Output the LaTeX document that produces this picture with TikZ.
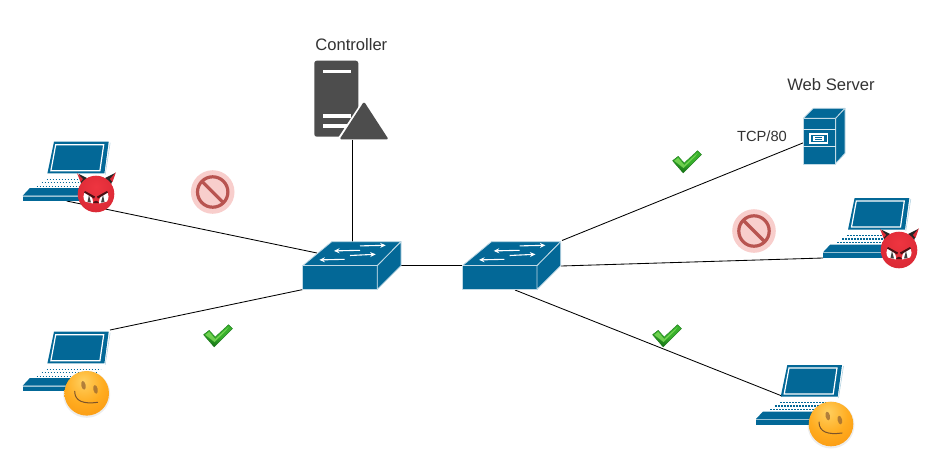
\documentclass[tikz,border=0pt]{standalone}
\usepackage{fontspec}
\setmainfont{Liberation Sans}
\definecolor{netblue}{HTML}{036897}
\definecolor{ctlgray}{HTML}{4D4D4D}
\definecolor{txt}{HTML}{333333}
\definecolor{ringred}{HTML}{B85450}
\definecolor{palered}{HTML}{F8CECC}
\definecolor{devA}{HTML}{EE3540}
\definecolor{devB}{HTML}{DC2A36}
\definecolor{devC}{HTML}{A82028}
\definecolor{devD}{HTML}{4A1014}
\definecolor{smA}{HTML}{FFD060}
\definecolor{smB}{HTML}{FFAC20}
\definecolor{smC}{HTML}{F8920C}
\definecolor{smD}{HTML}{E87804}
\definecolor{chkA}{HTML}{7FDC5A}
\definecolor{chkB}{HTML}{38B02C}
\definecolor{chkC}{HTML}{147014}
\pgfdeclareradialshading{smileshade}{\pgfpoint{-4bp}{14bp}}{color(0bp)=(smA); color(22bp)=(smB); color(45bp)=(smC); color(62bp)=(smD); color(100bp)=(smD)}
\pgfdeclareradialshading{devilshade}{\pgfpoint{0bp}{10bp}}{color(0bp)=(devA); color(30bp)=(devB); color(46bp)=(devC); color(60bp)=(devD); color(100bp)=(devD)}
\usetikzlibrary{arrows.meta}
\tikzset{
  x=1pt,y=-1pt,
  port/.style={inner sep=0pt,minimum size=0pt,outer sep=0pt},
  link/.style={draw=black,line width=0.85pt},
  lbl/.style={inner sep=0pt,text=txt,font=\fontsize{16.6}{18}\selectfont},
  smalllbl/.style={inner sep=0pt,text=txt,font=\fontsize{14.7}{16}\selectfont},
  face/.style={fill=netblue,draw=white!75!netblue,line width=0.8pt,line join=round},
  flowarrow/.style={white,line width=1.1pt,-{Stealth[length=5.5pt,width=5pt]}},
  laptop/.pic={
    \fill[netblue] (31.3,0)--(86,0)--(81.7,31.7)--(24.7,31.7)--cycle;
    \draw[white,line width=1.2pt] (33,3)--(81,3)--(77.2,29)--(28.2,29)--cycle;
    \draw[white!70!netblue,line width=0.6pt] (87.5,1)--(82.5,33);
    \foreach \yy/\xa/\xb in {37.5/24/78,41/19/75,44.5/14/72}
      \draw[netblue,line width=1.3pt,dash pattern=on 1.6pt off 1.4pt] (\xa,\yy)--(\xb,\yy);
    \fill[netblue] (0,54)--(7,46.5)--(70,46.5)--(66,54)--cycle;
    \fill[netblue] (0,55)--(72,55)--(72,59.5)--(0,59.5)--cycle;
    \draw[white!60!netblue,line width=0.5pt] (0,54.6)--(72,54.6);
  },
  switchicon/.pic={
    \path[face] (0,24)--(29,0)--(98.3,0)--(74.6,24)--cycle;
    \path[face] (0,24)--(74.6,24)--(74.6,47.6)--(0,47.6)--cycle;
    \path[face] (74.6,24)--(98.3,0)--(98.3,24)--(74.6,47.6)--cycle;
    \draw[flowarrow] (57.3,4.2)--(83,3.6);
    \draw[flowarrow] (57.3,8.6)--(31.3,9.2);
    \draw[flowarrow] (47.3,13.8)--(73,12.6);
    \draw[flowarrow] (42,17.6)--(16.7,18.2);
  },
  devil/.pic={
    \fill[black!85] (-17,-20)--(-9,-16)--(-14.5,-8)--cycle;
    \fill[black!85] (19,-21)--(9,-16)--(14.5,-8)--cycle;
    \fill[devB] (-19,-21)--(-13,-15)--(-15.5,-12)--cycle;
    \fill[devB] (20,-22)--(14,-15)--(16.5,-12)--cycle;
    \shade[shading=devilshade] (0,0) circle[radius=18.3];
    \fill[white] (-11.5,-1.5) .. controls (-6,-1.5) and (-2.5,4) .. (-3,9.5) -- (-11,7.5) .. controls (-13,4) and (-13,1) .. (-11.5,-1.5);
    \fill[white] (11.5,-1.5) .. controls (6,-1.5) and (2.5,4) .. (3,9.5) -- (11,7.5) .. controls (13,4) and (13,1) .. (11.5,-1.5);
    \fill[black!75] (-7,1)--(-5,8.5)--(-8.5,8)--cycle;
    \fill[black!75] (7,1)--(5,8.5)--(8.5,8)--cycle;
    \fill[devD] (-11,-3)--(-1,2.5)--(-2,4.5)--(-12,-1.5)--cycle;
    \fill[devD] (11,-3)--(1,2.5)--(2,4.5)--(12,-1.5)--cycle;
    \fill[devD] (-3,9) .. controls (-1,6) and (1,6) .. (3,9) -- cycle;
  },
  smiley/.pic={
    \fill[black,opacity=0.07] (0,1) circle[radius=23.5];
    \shade[shading=smileshade] (0,0) circle[radius=22.3];
    \fill[brown!75!black,opacity=0.7,rotate=12] (-1.5,-8.5) ellipse[x radius=2.2,y radius=4.4];
    \fill[brown!75!black,opacity=0.7,rotate=12] (9.5,-2) ellipse[x radius=2.2,y radius=4.4];
    \draw[brown!65!black,line width=1pt,line cap=round] (-12,-2) .. controls (-12,8) and (-3,11) .. (11,9);
  },
  checkmark/.pic={
    \shade[top color=chkB,bottom color=chkC,middle color=chkB,shading angle=-20,draw=chkC,line width=0.3pt,line join=round]
      (-14,-1.3)--(-8.3,-5.7)--(-2.3,1)--(11,-11.3)--(15,-7.3)--(-3.3,11)--cycle;
    \fill[chkA,opacity=0.8] (-12.3,-1.2)--(-8.3,-4)--(-2.3,3)--(11,-9)--(9,-6)--(-3,6)--cycle;
  },
  forbid/.pic={
    \fill[palered] (0,0) circle[radius=21.8];
    \draw[ringred,line width=3.2pt] (0,0) circle[radius=15.2];
    \draw[ringred,line width=3.2pt] (-10.7,-10.7)--(10.7,10.7);
  }
}
\begin{document}
\begin{tikzpicture}
\useasboundingbox (0,0) rectangle (943,469);
% controller
\fill[ctlgray,rounded corners=2.5pt] (314.3,60.7) rectangle (358.3,136.7);
\fill[white] (323.3,70) rectangle (350.7,73.3);
\fill[white] (323.3,114.3) rectangle (350.7,117.7);
\fill[white] (323.3,124.3) rectangle (350.7,127.7);
\fill[white,rounded corners=1.5pt] (364,98.5)--(336,141)--(392,141)--cycle;
\fill[ctlgray,rounded corners=1.5pt] (364,101.5)--(339.5,139.4)--(388.6,139.4)--cycle;
% connector ports
\node[port] (lapDevilA) at (66.7,201) {};
\node[port] (swAwest)   at (317,253) {};
\node[port] (lapSmileA) at (110,330) {};
\node[port] (swAsw)     at (303,289.5) {};
\node[port] (ctrl)      at (352,139.5) {};
\node[port] (swAtop)    at (352,242) {};
\node[port] (swAeast)   at (401,265.7) {};
\node[port] (swBwest)   at (462.4,265.7) {};
\node[port] (swBne)     at (562,240.5) {};
\node[port] (web)       at (804,142.5) {};
\node[port] (swBeast)   at (561,266) {};
\node[port] (lapDevilB) at (823,258) {};
\node[port] (swBsouth)  at (515,290) {};
\node[port] (lapSmileB) at (782,396) {};
% connectors
\draw[link] (lapDevilA) -- (swAwest);
\draw[link] (lapSmileA) -- (swAsw);
\draw[link] (ctrl) -- (swAtop);
\draw[link] (swAeast) -- (swBwest);
\draw[link] (swBne) -- (web);
\draw[link] (swBeast) -- (lapDevilB);
\draw[link] (swBsouth) -- (lapSmileB);
% switches
\pic at (302.7,241.7) {switchicon};
\pic at (462.4,241.7) {switchicon};
% laptops
\pic at (22.7,141.7) {laptop};
\pic at (22.7,331.7) {laptop};
\pic at (823.3,198) {laptop};
\pic at (756,365) {laptop};
% badges
\pic at (96,194) {devil};
\pic at (899,250) {devil};
\pic at (86.7,393.3) {smiley};
\pic at (831,424) {smiley};
% web server
\path[face] (813.3,108.3)--(845,108.3)--(835.7,118.3)--(803.3,118.3)--cycle;
\path[face] (835.7,118.3)--(845,108.3)--(845,153.3)--(835.7,163.5)--cycle;
\path[face] (803.3,118.3)--(835.7,118.3)--(835.7,164.3)--(803.3,164.3)--cycle;
\draw[white!85!netblue,line width=1pt] (803.3,129)--(835.7,129) (803.3,146)--(835.7,146);
\fill[white] (809,133) rectangle (828,143.5);
\fill[netblue] (810.5,134.5) rectangle (826.5,142);
\fill[white] (813,136) rectangle (824,140.5);
\draw[netblue,line width=0.5pt] (815,137.5)--(822,137.5) (815,139)--(822,139);
% labels
\node[lbl] (lblCtrl) at (351.3,44.5) {Controller};
\node[lbl] (lblWeb) at (831,84.5) {Web Server};
\node[smalllbl] (lblTcp) at (762,136) {TCP/80};
% status marks
\pic at (212.7,192) {forbid};
\pic at (754,231) {forbid};
\pic at (217.5,336) {checkmark};
\pic at (686.5,162) {checkmark};
\pic at (666.5,336) {checkmark};
\end{tikzpicture}
\end{document}
